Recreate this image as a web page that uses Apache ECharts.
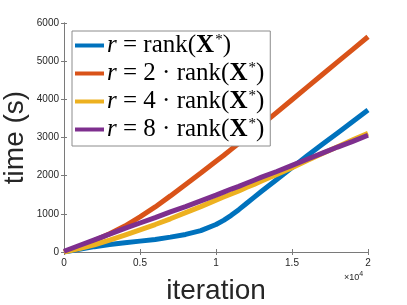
<!DOCTYPE html>
<html><head><meta charset="utf-8">
<script src="https://cdn.jsdelivr.net/npm/echarts@6/dist/echarts.min.js"></script>
<style>html,body{margin:0;padding:0;background:#fff}#c{width:407px;height:305px}</style>
</head><body><div id="c"></div>
<script>
const iterations = [0,1000,2000,3000,4000,5000,6000,7000,8000,9000,10000,10500,11000,11500,12000,12500,13000,14000,15000,16000,17000,18000,19000,20000];
const seriesNames = ['r1','r2','r4','r8'];
const timeRank1 = [0,70,140,195,240,285,330,390,460,560,720,830,960,1110,1270,1430,1590,1900,2210,2520,2820,3120,3420,3720];
const timeRank2 = [0,140,300,480,680,920,1180,1470,1770,2070,2380,2530,2690,2850,3010,3170,3330,3660,3990,4320,4650,4980,5310,5640];
const timeRank4 = [0,90,190,310,440,580,720,870,1030,1190,1360,1440,1520,1600,1690,1770,1860,2030,2210,2400,2580,2760,2940,3110];
const timeRank8 = [20,170,320,470,620,760,900,1050,1190,1340,1490,1570,1650,1720,1800,1880,1960,2110,2270,2430,2590,2750,2900,3060];
const xTicks = ['0','0.5','1','1.5','2'];
const yTicks = ['0','1000','2000','3000','4000','5000','6000'];
const colors = ['#0072BD','#D95319','#EDB120','#7E2F8E'];
const legendLabels = {
  r1: '{i|r}{n| = rank(}{b|X}{s|*}{n|)}',
  r2: '{i|r}{n| = 2 · rank(}{b|X}{s|*}{n|)}',
  r4: '{i|r}{n| = 4 · rank(}{b|X}{s|*}{n|)}',
  r8: '{i|r}{n| = 8 · rank(}{b|X}{s|*}{n|)}'
};
const allData = [timeRank1, timeRank2, timeRank4, timeRank8];
const axisColor = '#7a7a7a';
const labelColor = '#262626';
const chart = echarts.init(document.getElementById('c'), null, {renderer:'canvas'});
const grid = {left:64, top:23, right:39, bottom:53, outerBoundsMode:'none', containLabel:false};
const serif = 'Liberation Serif';
const fs = 25;
const lh = 27;
chart.setOption({
  animation:false,
  color: colors,
  grid: grid,
  xAxis: [{
    type:'value', min:0, max:20000, interval:5000,
    name:'iteration', nameLocation:'middle', nameGap:25, nameMoveOverlap:false,
    nameTextStyle:{fontFamily:'Liberation Sans', fontSize:28, color:labelColor},
    axisLine:{show:true, lineStyle:{color:axisColor, width:1}},
    axisTick:{show:true, inside:true, length:3, lineStyle:{color:axisColor}},
    axisLabel:{fontFamily:'Liberation Sans', fontSize:10, color:labelColor, margin:6,
      formatter:(v)=>xTicks[Math.round(v/5000)]},
    splitLine:{show:false}
  },{
    type:'value', min:0, max:20000, interval:5000, position:'top',
    axisLine:{show:true, lineStyle:{color:axisColor, width:1}},
    axisTick:{show:true, inside:true, length:3, lineStyle:{color:axisColor}},
    axisLabel:{show:false}, splitLine:{show:false}
  }],
  yAxis: [{
    type:'value', min:0, max:6000, interval:1000,
    name:'time (s)', nameLocation:'middle', nameGap:35, nameMoveOverlap:false,
    nameTextStyle:{fontFamily:'Liberation Sans', fontSize:28, color:labelColor},
    axisLine:{show:true, lineStyle:{color:axisColor, width:1}},
    axisTick:{show:true, inside:true, length:3, lineStyle:{color:axisColor}},
    axisLabel:{fontFamily:'Liberation Sans', fontSize:10, color:labelColor, margin:5,
      formatter:(v)=>yTicks[Math.round(v/1000)]},
    splitLine:{show:false}
  },{
    type:'value', min:0, max:6000, interval:1000, position:'right',
    axisLine:{show:true, lineStyle:{color:axisColor, width:1}},
    axisTick:{show:true, inside:true, length:3, lineStyle:{color:axisColor}},
    axisLabel:{show:false}, splitLine:{show:false}
  }],
  legend: {
    left:72, top:31, orient:'vertical', itemGap:1,
    itemWidth:29, itemHeight:4, icon:'rect',
    borderColor:'#8c8c8c', borderWidth:1, backgroundColor:'#fff',
    padding:[1,6,3,3],
    data: seriesNames,
    formatter:(n)=>legendLabels[n],
    textStyle:{
      fontFamily:serif, fontSize:fs, lineHeight:lh, color:'#000', padding:[0,0,0,-2],
      rich:{
        i:{fontFamily:serif, fontStyle:'italic', fontSize:fs, lineHeight:lh, color:'#000'},
        n:{fontFamily:serif, fontSize:fs, lineHeight:lh, color:'#000'},
        b:{fontFamily:serif, fontWeight:'bold', fontSize:fs, lineHeight:lh, color:'#000'},
        s:{fontFamily:serif, fontSize:15, lineHeight:lh, color:'#000', padding:[0,0,10,1]}
      }
    }
  },
  graphic:[{
    type:'text', left:344, top:271,
    style:{text:'{a|×10}{b|4}', rich:{a:{fontFamily:'Liberation Sans', fontSize:9, fill:labelColor},
      b:{fontFamily:'Liberation Sans', fontSize:7, fill:labelColor, padding:[0,0,6,0]}}}
  }],
  series: seriesNames.map((n,k)=>({
    name:n, type:'line', showSymbol:false, smooth:false,
    lineStyle:{width:5, color:colors[k]},
    data: iterations.map((x,i)=>[x, allData[k][i]])
  }))
});
</script></body></html>
